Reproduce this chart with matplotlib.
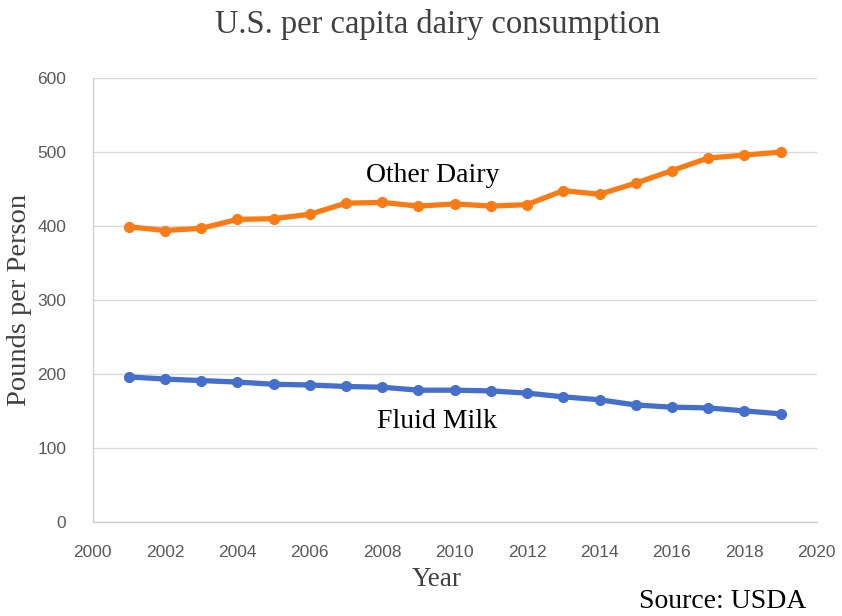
import numpy as np
import matplotlib.pyplot as plt

# data
years = list(range(2001, 2020))
other_dairy = [399, 394, 397, 409, 410, 416, 431, 432, 427, 430,
               427, 429, 448, 443, 458, 475, 492, 496, 500]
fluid_milk = [196, 193, 191, 189, 186, 185, 183, 182, 178, 178,
              177, 174, 169, 165, 158, 155, 154, 150, 146]

serif = "Liberation Serif"
tick_font = ["Liberation Sans Narrow", "Liberation Sans", "DejaVu Sans"]

fig = plt.figure(figsize=(8.42, 6.16), dpi=100)
ax = fig.add_axes([0.110, 0.153, 0.860, 0.720])

ax.plot(years, other_dairy, color="#F97B16", lw=3.8, marker="o", ms=7, zorder=3)
ax.plot(years, fluid_milk, color="#4470CC", lw=3.8, marker="o", ms=7, zorder=3)

ax.set_xlim(2000, 2020)
ax.set_ylim(0, 600)
ax.set_xticks(range(2000, 2021, 2))
ax.set_yticks(range(0, 601, 100))
ax.grid(axis="y", color="#D9D9D9", lw=1)
ax.set_axisbelow(True)
for s in ["top", "right"]:
    ax.spines[s].set_visible(False)
for s in ["left", "bottom"]:
    ax.spines[s].set_color("#D0D0D0")
    ax.spines[s].set_linewidth(1)
ax.tick_params(length=0, labelsize=12.5, labelcolor="#595959")
ax.tick_params(axis="x", pad=17)
ax.tick_params(axis="y", pad=19)
for lab in ax.get_xticklabels() + ax.get_yticklabels():
    lab.set_family(tick_font)

ax.set_ylabel("Pounds per Person", family=serif, fontsize=20.5, color="#404040", labelpad=4)
fig.text(437 / 842, 1 - 580 / 616, "Year", family=serif, fontsize=19.5,
         color="#404040", ha="center", va="center")
fig.text(438 / 842, 1 - 25 / 616, "U.S. per capita dairy consumption", family=serif,
         fontsize=23.5, color="#404040", ha="center", va="center")
ax.text(2009.4, 468, "Other Dairy", family=serif, fontsize=20, ha="center", va="center")
ax.text(2009.5, 136, "Fluid Milk", family=serif, fontsize=20, ha="center", va="center")
fig.text(806 / 842, 1 - 601 / 616, "Source: USDA", family=serif, fontsize=20,
         ha="right", va="center")

fig.savefig("out.png", dpi=100)
